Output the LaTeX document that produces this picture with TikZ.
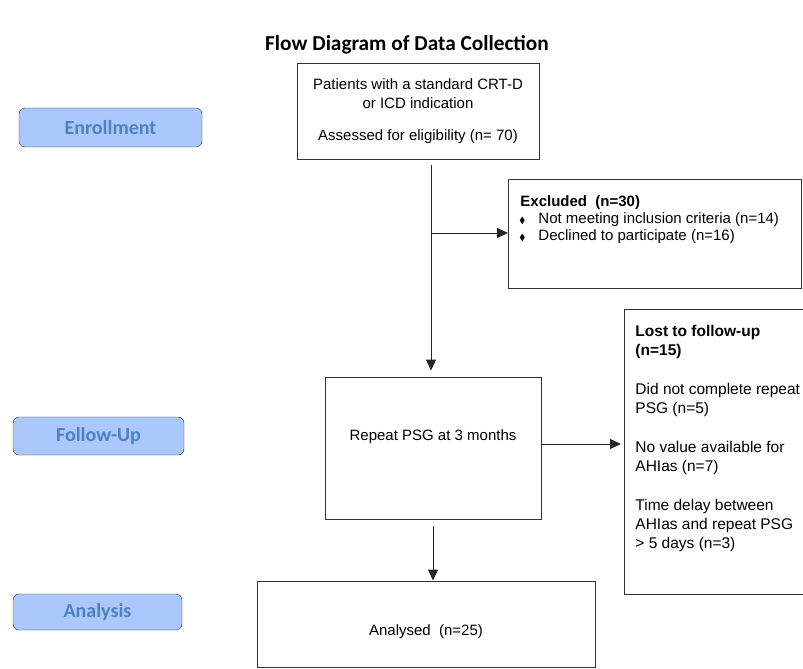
\documentclass[tikz,border=0pt]{standalone}
\usepackage{amssymb}
\usepackage{fontspec}
\setmainfont{Liberation Sans}
\newfontfamily\phasefont{Carlito}
\usetikzlibrary{arrows.meta}

\definecolor{phasefill}{RGB}{170,200,252}
\definecolor{phasetext}{RGB}{79,129,189}

\tikzset{
    phase/.style={draw=black!80, fill=phasefill, rounded corners=6pt, text=phasetext,
        font=\phasefont\fontsize{20}{22}\selectfont\bfseries, inner sep=0pt},
    flowbox/.style={draw=black!80, line width=0.9pt, inner sep=0pt,
        font=\fontsize{15}{19}\selectfont},
    sidebox/.style={draw=black!80, line width=0.9pt, anchor=north west,
        font=\fontsize{15}{17}\selectfont},
    flow/.style={draw=black!85, line width=0.9pt},
    flowarrow/.style={flow, -{Triangle[length=11pt,width=10pt]}}
}
\newcommand{\dia}{\makebox[18pt][l]{\hspace{-1pt}\fontsize{9}{9}\selectfont$\blacklozenge$}}

\begin{document}
\begin{tikzpicture}[x=1pt, y=-1pt]
    % Canvas matches the reference size
    \useasboundingbox (0,0) rectangle (803,669);

    % Title
    \node[font=\phasefont\fontsize{21.3}{23}\selectfont\bfseries] (title) at (407,45) {Flow Diagram of Data Collection};

    % Phase labels on the left
    \node[phase, minimum width=183pt, minimum height=39pt] (enroll) at (110.5,127.5) {Enrollment};
    \node[phase, minimum width=171pt, minimum height=38pt] (follow) at (98.5,436) {Follow-Up};
    \node[phase, minimum width=169pt, minimum height=36pt] (analysis) at (97.5,612) {Analysis};

    % Main column
    \node[flowbox, align=center, minimum width=242pt, minimum height=96pt] (patients) at (418,111)
        {Patients with a standard CRT-D\\or ICD indication\\[13pt]Assessed for eligibility (n= 70)};
    \node[flowbox, minimum width=216pt, minimum height=142pt, text depth=25pt] (repeat) at (433,448)
        {Repeat PSG at 3 months};
    \node[flowbox, minimum width=338pt, minimum height=86pt, text height=26pt] (analysed) at (426,624)
        {Analysed\ \ (n=25)};

    % Side boxes
    \node[sidebox, inner xsep=12pt, inner ysep=16pt, minimum width=293pt, minimum height=109pt] (excluded) at (508,179)
        {\parbox[t][77pt][t]{269pt}{\textbf{Excluded\ \ (n=30)}\\
         \dia Not meeting inclusion criteria (n=14)\\
         \dia Declined to participate (n=16)}};
    \node[sidebox, font=\fontsize{15.5}{19}\selectfont, inner xsep=11pt, inner ysep=16pt, minimum height=285pt] (lost) at (624,309)
        {\parbox[t][253pt][t]{175pt}{\textbf{Lost to follow-up}\\\textbf{(n=15)}\\[20pt]
         Did not complete repeat\\PSG (n=5)\\[20pt]
         No value available for\\AHIas (n=7)\\[20pt]
         Time delay between\\AHIas and repeat PSG\\\textgreater{} 5 days (n=3)}};

    % Connectors
    \coordinate (split) at (431,233);
    \coordinate (lostout) at ([yshift=4pt]repeat.east);
    \draw[flowarrow, shorten <=6pt, shorten >=6pt] (patients.south -| split) -- (repeat.north -| split);
    \draw[flowarrow] (split) -- (excluded.west |- split);
    \draw[flowarrow, shorten >=3pt] (lostout) -- (lost.west |- lostout);
    \draw[flowarrow, shorten <=7pt] (repeat.south) -- (repeat.south |- analysed.north);
\end{tikzpicture}
\end{document}
